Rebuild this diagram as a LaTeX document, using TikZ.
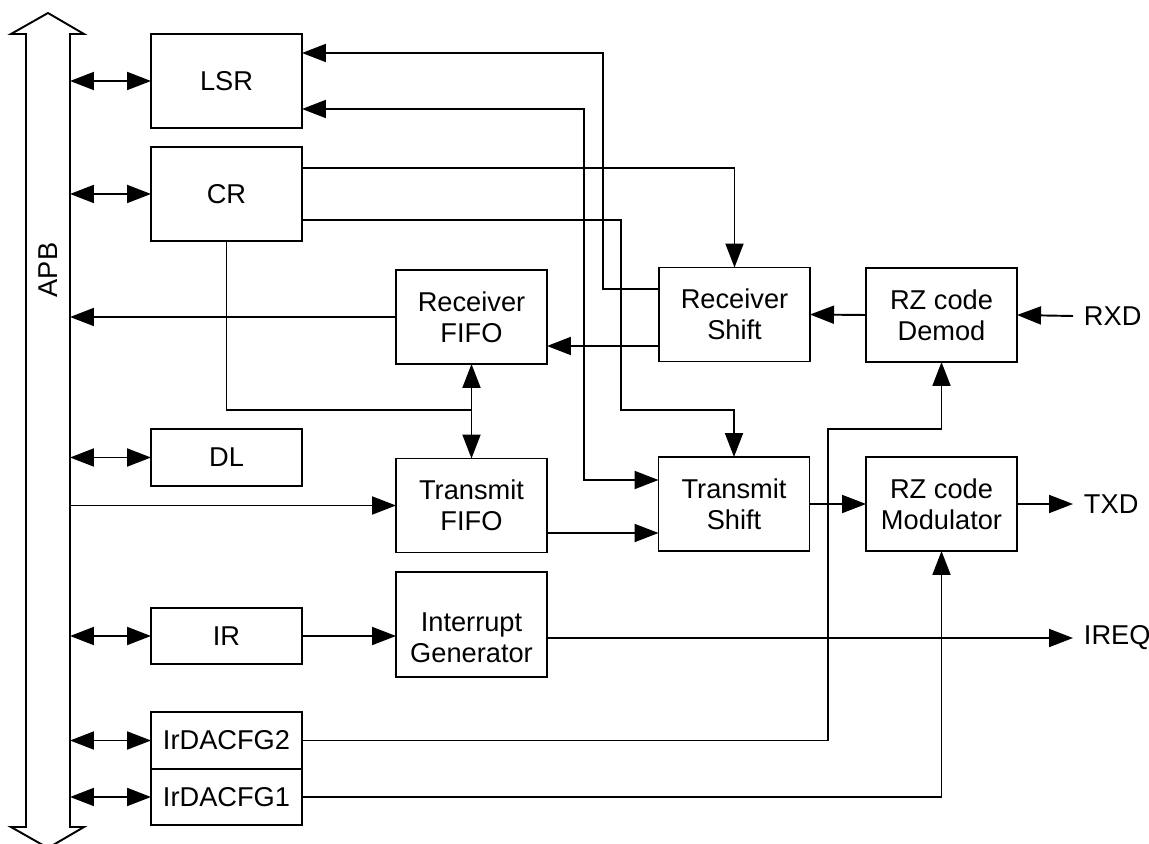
\documentclass[tikz,border=0pt]{standalone}
\usepackage{fontspec}
\setmainfont{Liberation Sans}
\usetikzlibrary{calc,arrows.meta,positioning}

\begin{document}
\begin{tikzpicture}[x=0.02cm,y=-0.02cm,line width=1.1pt,font=\fontsize{15.5}{17.8}\selectfont]

\tikzset{blk/.style={draw,align=center,inner sep=0pt,outer sep=0pt,minimum width=3.02cm,minimum height=1.88cm},
thinblk/.style={blk,minimum height=1.13cm},
sig/.style={anchor=west,inner ysep=0pt,inner xsep=0.2cm},
arr/.style={-{Triangle[length=0.48cm,width=0.36cm]}},
darr/.style={{Triangle[length=0.48cm,width=0.36cm]}-{Triangle[length=0.48cm,width=0.36cm]}}}

\useasboundingbox (0,0) rectangle (1149,844);

% APB bus
\draw (26,34) -- (11,34) -- (48,13) -- (84,34) -- (70,34) -- (70,827) -- (84,827) -- (48,848) -- (11,827) -- (26,827) -- cycle;
\node[rotate=90] (apb) at (48,270) {APB};
\coordinate (bus) at (70,34);

% registers
\node[blk] (lsr) at (226.5,81) {LSR};
\node[blk,below=0.38cm of lsr] (cr) {CR};
\node[thinblk] (dl) at (226.5,457.5) {DL};
\node[thinblk] (ir) at (226.5,636) {IR};
\node[thinblk] (cfg2) at (226.5,740.5) {IrDACFG2};
\node[thinblk,below=0pt of cfg2] (cfg1) {IrDACFG1};

% fifos and shifters
\node[blk] (rxfifo) at (471.5,317) {Receiver\\FIFO};
\node[blk] (txfifo) at (471.5,505.5) {Transmit\\FIFO};
\node[blk,minimum height=2.1cm,label={[align=center,yshift=-0.26cm]center:Interrupt\\Generator}] (intgen) at (471.5,624.5) {};
\node[blk] (rxshift) at (734.5,314.5) {Receiver\\Shift};
\node[blk] (txshift) at (734,504) {Transmit\\Shift};
\node[blk] (demod) at (941.5,315) {RZ code\\Demod};
\node[blk] (mod) at (941.5,504) {RZ code\\Modulator};

% pins
\node[sig] (rxd) at (1073,316) {RXD};
\node[sig] (txd) at (1073,504) {TXD};
\node[sig] (ireq) at (1073,638) {IREQ};

% bus connections
\foreach \n in {lsr,cr,dl,ir,cfg2,cfg1} \draw[darr] (\n.west -| bus) -- (\n.west);
\draw[arr] (rxfifo.west) -- (rxfifo.west -| bus);
\draw[arr] (txfifo.west -| bus) -- (txfifo.west);

% status back to LSR
\draw[arr] ($(rxshift.west)+(0,-25.5)$) -| (603,53) -- ($(lsr.east)+(0,-28)$);
\draw[darr] ($(lsr.east)+(0,28)$) -| (584,480) -- ($(txshift.west)+(0,-24)$);

% control from CR
\coordinate (tap) at (471.5,410);
\draw[arr] ($(cr.east)+(0,-26)$) -| (rxshift.north);
\draw[arr] ($(cr.east)+(0,26)$) -| (621,410) -| (txshift.north);
\draw (cr.south) |- (tap);
\draw[darr] (rxfifo.south) -- (txfifo.north);

% receive path
\draw[arr] (rxd.west) -- (demod.east);
\draw[arr] (demod.west) -- (rxshift.east);
\draw[arr] ($(rxshift.west)+(0,31.5)$) coordinate (rs) -- (rs -| rxfifo.east);

% transmit path
\draw[arr] ($(txfifo.east)+(0,27.5)$) coordinate (tf) -- (tf -| txshift.west);
\draw[arr] (txshift.east) -- (mod.west);
\draw[arr] (mod.east) -- (txd.west);

% interrupt
\draw[arr] (ir.east) -- (ir.east -| intgen.west);
\draw[arr] (ireq.west -| intgen.east) -- (ireq.west);

% IrDA config
\draw[arr] (cfg2.east) -| (828,429) -| (demod.south);
\draw[arr] (cfg1.east) -| (mod.south);

\end{tikzpicture}
\end{document}
